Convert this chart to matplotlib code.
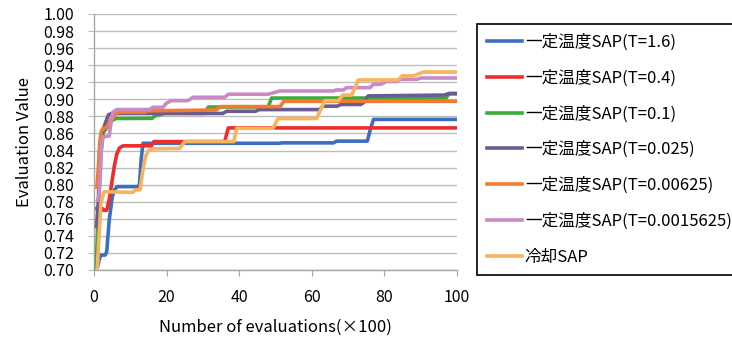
import matplotlib
matplotlib.use('Agg')
import matplotlib.pyplot as plt
from matplotlib.ticker import FormatStrFormatter

plt.rcParams['font.family'] = ['Noto Sans CJK JP', 'DejaVu Sans']

# best evaluation value vs. number of evaluations (x100)
labels = ['一定温度SAP(T=1.6)', '一定温度SAP(T=0.4)', '一定温度SAP(T=0.1)',
          '一定温度SAP(T=0.025)', '一定温度SAP(T=0.00625)',
          '一定温度SAP(T=0.0015625)', '冷却SAP']
colors = ['#3d6fc1', '#ee2d2d', '#3cab3c', '#6a5b92', '#f47a2f', '#c98ac6', '#f9b35c']

blue_x = [0.9, 1.4, 1.9, 3.1, 3.5, 4.2, 5.0, 5.6, 6.4, 11.9, 12.5, 13.0, 13.5,
          51.0, 51.8, 66.0, 66.8, 75.3, 76.2, 77.0, 100]
blue_y = [0.702, 0.712, 0.7175, 0.7175, 0.7215, 0.7587, 0.785, 0.7937, 0.7977,
          0.7977, 0.799, 0.83, 0.8485, 0.8485, 0.849, 0.849, 0.851, 0.851,
          0.866, 0.8765, 0.8765]

red_x = [0.8, 2.3, 2.6, 3.5, 4.3, 5.0, 5.6, 6.3, 7.0, 8.0, 15.8, 16.5, 36.0,
         37.0, 100]
red_y = [0.772, 0.772, 0.770, 0.770, 0.785, 0.805, 0.822, 0.836, 0.843,
         0.8455, 0.8455, 0.8505, 0.8505, 0.8665, 0.8665]

green_x = [0.6, 1.0, 1.5, 2.0, 2.6, 3.5, 4.5, 6.0, 16.0, 16.8, 19.5, 30.5,
           31.5, 48.0, 48.9, 97.0, 97.8, 100]
green_y = [0.702, 0.75, 0.80, 0.84, 0.862, 0.866, 0.874, 0.8775, 0.8777,
           0.8805, 0.8835, 0.8835, 0.891, 0.891, 0.9015, 0.9015, 0.907, 0.907]

purple_x = [0.7, 1.2, 1.6, 2.2, 3.1, 4.0, 5.0, 35.5, 36.5, 44.5, 45.5, 62.2,
            63.0, 67.0, 68.0, 73.5, 74.5, 75.5, 96.5, 97.5, 100]
purple_y = [0.751, 0.78, 0.845, 0.86, 0.872, 0.882, 0.8835, 0.8835, 0.886,
            0.886, 0.888, 0.888, 0.892, 0.892, 0.894, 0.894, 0.897, 0.904,
            0.905, 0.9065, 0.9065]

orange_x = [0.8, 1.2, 1.6, 2.0, 2.5, 3.5, 4.5, 5.5, 6.3, 7.0, 14.0, 15.0,
            33.7, 34.8, 51.3, 52.3, 100]
orange_y = [0.797, 0.82, 0.85, 0.862, 0.866, 0.867, 0.876, 0.880, 0.8837,
            0.885, 0.885, 0.8865, 0.8875, 0.8915, 0.8915, 0.8977, 0.8977]

pink_x = [1.0, 1.3, 1.6, 2.0, 2.4, 4.2, 4.6, 5.2, 6.3, 15.3, 16.2, 19.0,
          19.9, 21.3, 25.9, 27.3, 36.0, 37.0, 48.0, 51.2, 65.9, 66.8, 68.7,
          69.6, 76.0, 77.0, 79.0, 80.6, 83.4, 84.5, 89.0, 90.0, 100]
pink_y = [0.782, 0.785, 0.80, 0.84, 0.856, 0.857, 0.87, 0.885, 0.888, 0.888,
          0.8906, 0.8906, 0.8953, 0.8985, 0.8985, 0.9024, 0.9024, 0.906,
          0.906, 0.9098, 0.9098, 0.911, 0.911, 0.9137, 0.9137, 0.9176,
          0.9176, 0.921, 0.921, 0.9235, 0.9235, 0.925, 0.925]

yellow_x = [0.9, 1.4, 1.9, 2.8, 10.7, 11.4, 12.7, 13.4, 14.2, 15.0, 16.5,
            23.6, 25.0, 38.5, 39.3, 49.3, 50.7, 61.3, 63.6, 67.3, 68.6, 71.0,
            72.8, 83.8, 84.9, 88.0, 90.7, 100]
yellow_y = [0.702, 0.74, 0.778, 0.7917, 0.791, 0.794, 0.794, 0.815, 0.833,
            0.840, 0.842, 0.8425, 0.8505, 0.8505, 0.866, 0.866, 0.8775,
            0.8775, 0.8985, 0.8985, 0.905, 0.905, 0.9227, 0.9227, 0.9275,
            0.9275, 0.932, 0.932]

series = [(blue_x, blue_y), (red_x, red_y), (green_x, green_y),
          (purple_x, purple_y), (orange_x, orange_y), (pink_x, pink_y),
          (yellow_x, yellow_y)]

fig = plt.figure(figsize=(7.32, 3.40), dpi=100)
ax = fig.add_axes([94 / 732, 1 - 270 / 340, (457 - 94) / 732, (270 - 14) / 340])

for i, (xs, ys) in enumerate(series):
    ax.plot(xs, ys, color=colors[i], lw=2.6, label=labels[i],
            solid_joinstyle='round', zorder=3 + i)

ax.set_xlim(0, 100)
ax.set_ylim(0.70, 1.00)
ax.set_xticks(range(0, 101, 20))
ax.set_yticks([0.70 + 0.02 * k for k in range(16)])
ax.yaxis.set_major_formatter(FormatStrFormatter('%.2f'))
ax.grid(axis='y', color='#bdbdbd', lw=1.0)
ax.set_axisbelow(True)

for s in ['top', 'right']:
    ax.spines[s].set_visible(False)
for s in ['left', 'bottom']:
    ax.spines[s].set_color('#a6a6a6')
    ax.spines[s].set_linewidth(1.0)

ax.tick_params(axis='x', length=4, color='#a6a6a6', pad=10, labelsize=11.5)
ax.tick_params(axis='y', length=4.5, color='#bdbdbd', pad=10, labelsize=11.5)

ax.set_xlabel('Number of evaluations(×100)', fontsize=12, labelpad=9)
ax.set_ylabel('Evaluation Value', fontsize=12, labelpad=7)

# legend box runs up to the right edge of the figure
leg = ax.legend(loc='upper left', bbox_to_anchor=(477 / 732, 1 - 24 / 340),
                bbox_transform=fig.transFigure, borderaxespad=0,
                fontsize=12, handlelength=2.1, handletextpad=0.2,
                labelspacing=1.12, borderpad=0.57, fancybox=False,
                framealpha=1)
leg.get_frame().set_edgecolor('black')
leg.get_frame().set_linewidth(1.2)

fig.savefig('out.png', dpi=100)
